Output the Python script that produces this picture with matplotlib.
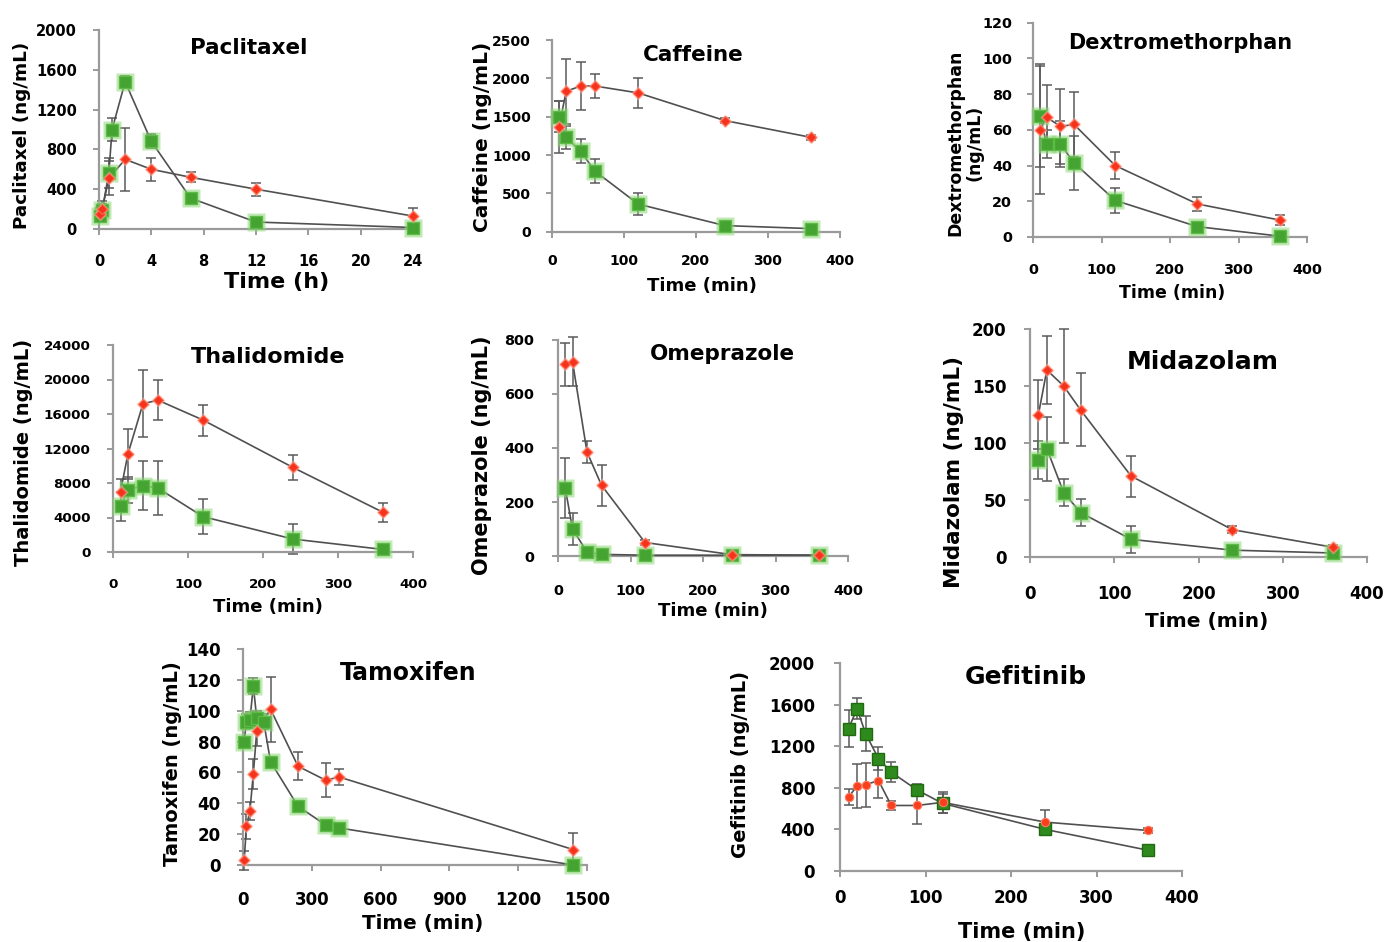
import matplotlib
matplotlib.use('Agg')
import matplotlib.pyplot as plt

W, H = 1387, 942

# ---------------- data ----------------
# Paclitaxel (time in h)
pac_t_red = [0.083, 0.25, 0.75, 2, 4, 7, 12, 24]
pac_red = [150, 200, 510, 700, 600, 520, 400, 130]
pac_red_err = [60, 80, 170, 315, 115, 50, 65, 80]
pac_t_green = [0.083, 0.25, 0.75, 1, 2, 4, 7, 12, 24]
pac_green = [130, 190, 560, 1000, 1480, 880, 310, 70, 15]
pac_green_err = [40, 60, 150, 120, 60, 70, 30, 20, 10]

# common sampling times (min)
t_min = [10, 20, 40, 60, 120, 240, 360]

caf_red = [1360, 1830, 1900, 1900, 1810, 1450, 1230]
caf_red_err = [340, 420, 310, 160, 200, 30, 30]
caf_green = [1500, 1230, 1050, 790, 360, 80, 40]
caf_green_err = [200, 150, 160, 160, 140, 20, 20]

dex_red = [60, 67, 62, 63, 40, 18.5, 9.5]
dex_red_err = [36, 18, 21, 18, 7.5, 4, 3]
dex_green = [68, 52, 52, 41.5, 20.5, 5.8, 0.5]
dex_green_err = [29, 8, 13, 15, 7, 1, 1]

thal_red = [7000, 11400, 17200, 17600, 15300, 9800, 4600]
thal_red_err = [1500, 2900, 3900, 2300, 1800, 1400, 1100]
thal_green = [5300, 7200, 7700, 7400, 4100, 1500, 300]
thal_green_err = [1700, 1500, 2800, 3100, 2000, 1700, 200]

ome_red = [710, 720, 385, 262, 50, 5, 3]
ome_red_err = [80, 90, 42, 75, 10, 2, 1]
ome_green = [252, 100, 15, 6, 3, 3, 3]
ome_green_err = [110, 58, 5, 3, 1, 1, 1]

mid_red = [125, 164, 150, 129, 71, 24, 8.5]
mid_red_err = [30, 30, 50, 32, 18, 3, 2]
mid_green = [85, 95, 56.5, 39, 15.5, 6, 3.5]
mid_green_err = [17, 28, 12, 12, 12, 1, 1]

tam_t_red = [5, 15, 30, 45, 60, 120, 240, 360, 420, 1440]
tam_red = [3, 25, 35, 59, 87, 101, 64, 55, 57, 10]
tam_red_err = [6, 8, 6, 10, 10, 21, 9, 11, 5, 11]
tam_t_green = [5, 15, 30, 45, 60, 90, 120, 240, 360, 420, 1440]
tam_green = [80, 93, 94, 116, 95, 93, 67, 38, 26, 24, 0]
tam_green_err = [3, 5, 5, 5, 5, 5, 3, 2, 2, 2, 1]

gef_t = [10, 20, 30, 45, 60, 90, 120, 240, 360]
gef_red = [710, 820, 830, 870, 630, 630, 660, 470, 390]
gef_red_err = [80, 210, 210, 170, 40, 180, 100, 120, 20]
gef_green = [1370, 1560, 1320, 1080, 950, 780, 650, 400, 200]
gef_green_err = [175, 100, 170, 110, 95, 60, 95, 20, 20]

# ---------------- drawing ----------------
plt.rcParams['font.family'] = ['DejaVu Sans']
fig = plt.figure(figsize=(W / 100, H / 100), dpi=100)

SPINE = '#9a9a9a'
LINE = '#505050'
ERR = '#5a5a5a'


def ftext(x, y, s, size, **kw):
    fig.text(x / W, 1 - y / H, s, ha='center', va='center', fontsize=size,
             fontweight='bold', **kw)


def panel(box, xlim, xticks, ylim, yticks, red, green, title, tpos, tsize,
          xlpos, xlsize, ylab, ylpos, ylsize, ticksize, xpad, ypad, glow=True):
    l, r, b, t = box
    ax = fig.add_axes([l / W, 1 - b / H, (r - l) / W, (b - t) / H])
    ax.set_xlim(*xlim)
    ax.set_ylim(*ylim)
    ax.set_xticks(xticks)
    ax.set_yticks(yticks)
    for s in ['top', 'right']:
        ax.spines[s].set_visible(False)
    for s in ['left', 'bottom']:
        ax.spines[s].set_color(SPINE)
        ax.spines[s].set_linewidth(1.6)
    ax.tick_params(axis='both', colors=SPINE, labelcolor='black', length=4,
                   width=1.4, labelsize=ticksize)
    ax.tick_params(axis='x', pad=xpad)
    ax.tick_params(axis='y', pad=ypad)
    for lab in ax.get_xticklabels() + ax.get_yticklabels():
        lab.set_fontweight('bold')
    ax.patch.set_alpha(0)

    for (tt, vv, ee), kind in ((red, 'red'), (green, 'green')):
        ax.errorbar(tt, vv, yerr=ee, fmt='none', ecolor=ERR, elinewidth=1.1,
                    capsize=3.5, capthick=1.1, clip_on=False, zorder=2)
        ax.plot(tt, vv, color=LINE, lw=1.2, clip_on=False, zorder=3)
    if glow:
        gt, gv, _ = green
        ax.plot(gt, gv, 's', ms=12.5, color='#8fd878', alpha=0.55, mec='none',
                clip_on=False, zorder=4)
        ax.plot(gt, gv, 's', ms=9, color='#45a332', mec='#5cbc45', mew=1,
                clip_on=False, zorder=5)
        rt, rv, _ = red
        ax.plot(rt, rv, 'D', ms=7.5, color='#ffb3a3', alpha=0.6, mec='none',
                clip_on=False, zorder=6)
        ax.plot(rt, rv, 'D', ms=5.5, color='#f5321c', mec='#ff6a50', mew=0.8,
                clip_on=False, zorder=7)
    else:
        gt, gv, _ = green
        ax.plot(gt, gv, 's', ms=8.5, color='#2e8a1c', mec='#216a12', mew=1,
                clip_on=False, zorder=5)
        rt, rv, _ = red
        ax.plot(rt, rv, 'o', ms=6, color='#f8401f', mec='#ff7a60', mew=0.8,
                clip_on=False, zorder=6)

    ftext(tpos[0], tpos[1], title, tsize)
    ftext(xlpos[0], xlpos[1], xlpos[2], xlsize)
    fig.text(ylpos[0] / W, 1 - ylpos[1] / H, ylab, ha='center', va='center',
             rotation=90, fontsize=ylsize, fontweight='bold',
             multialignment='center', linespacing=1.1)
    return ax


panel((99, 413, 229, 30), (0, 24), range(0, 25, 4), (0, 2000), range(0, 2001, 400),
      (pac_t_red, pac_red, pac_red_err), (pac_t_green, pac_green, pac_green_err),
      'Paclitaxel', (249, 48), 15.5, (277, 282, 'Time (h)'), 16,
      'Paclitaxel (ng/mL)', (22, 135), 13.2, 10.5, 14, 12)

panel((551.7, 840, 231.7, 40), (0, 400), range(0, 401, 100), (0, 2500), range(0, 2501, 500),
      (t_min, caf_red, caf_red_err), (t_min, caf_green, caf_green_err),
      'Caffeine', (693, 55), 15.5, (702, 286, 'Time (min)'), 13,
      'Caffeine (ng/mL)', (483, 137), 14.5, 10, 12, 11)

panel((1033, 1307, 237, 22.7), (0, 400), range(0, 401, 100), (0, 120), range(0, 121, 20),
      (t_min, dex_red, dex_red_err), (t_min, dex_green, dex_green_err),
      'Dextromethorphan', (1180, 43), 15, (1172, 293, 'Time (min)'), 12.5,
      'Dextromethorphan\n(ng/mL)', (965, 143), 12.5, 10.4, 15, 11)

panel((113, 413, 552, 345), (0, 400), range(0, 401, 100), (0, 24000), range(0, 24001, 4000),
      (t_min, thal_red, thal_red_err), (t_min, thal_green, thal_green_err),
      'Thalidomide', (268, 357), 16, (268, 607, 'Time (min)'), 13,
      'Thalidomide (ng/mL)', (24, 452), 14, 9.7, 15, 12)

panel((558, 848, 556, 340), (0, 400), range(0, 401, 100), (0, 800), range(0, 801, 200),
      (t_min, ome_red, ome_red_err), (t_min, ome_green, ome_green_err),
      'Omeprazole', (722, 354), 15.5, (713, 611, 'Time (min)'), 13,
      'Omeprazole (ng/mL)', (482, 455), 15, 10.4, 16, 13)

panel((1030, 1367, 557, 329), (0, 400), range(0, 401, 100), (0, 200), range(0, 201, 50),
      (t_min, mid_red, mid_red_err), (t_min, mid_green, mid_green_err),
      'Midazolam', (1203, 362), 18, (1207, 622, 'Time (min)'), 14.5,
      'Midazolam (ng/mL)', (954, 472), 15.5, 12, 16, 13)

panel((243, 587, 865, 649), (0, 1500), range(0, 1501, 300), (0, 140), range(0, 141, 20),
      (tam_t_red, tam_red, tam_red_err), (tam_t_green, tam_green, tam_green_err),
      'Tamoxifen', (408, 673), 17, (423, 923, 'Time (min)'), 14.3,
      'Tamoxifen (ng/mL)', (173, 764), 14, 12, 15, 12)

panel((840, 1182, 871, 663), (0, 400), range(0, 401, 100), (0, 2000), range(0, 2001, 400),
      (gef_t, gef_red, gef_red_err), (gef_t, gef_green, gef_green_err),
      'Gefitinib', (1026, 677), 18, (1022, 932, 'Time (min)'), 15,
      'Gefitinib (ng/mL)', (740, 764), 14, 12, 9, 14, glow=False)

fig.savefig('out.png', dpi=100)
